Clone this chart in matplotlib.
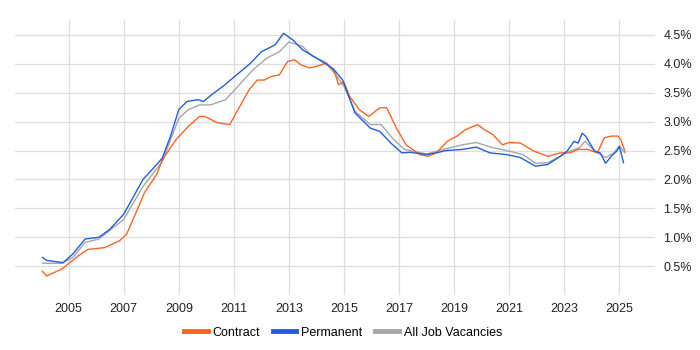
import matplotlib
matplotlib.use("Agg")
import matplotlib.pyplot as plt

plt.rcParams['font.family'] = ['Liberation Sans', 'DejaVu Sans']

# valores (año, porcentaje)
anios_contract = [2004.05, 2004.2, 2004.75, 2005.35, 2005.7, 2006.3, 2006.85, 2007.1, 2007.45, 2007.75,
                  2008.2, 2008.4, 2008.9, 2009.35, 2009.75, 2009.95, 2010.4, 2010.85, 2011.15, 2011.55,
                  2011.85, 2012.1, 2012.35, 2012.65, 2012.95, 2013.2, 2013.45, 2013.75, 2014.1, 2014.35,
                  2014.65, 2014.8, 2015.0, 2015.2, 2015.55, 2015.9, 2016.3, 2016.55, 2016.9, 2017.25,
                  2017.75, 2018.05, 2018.35, 2018.75, 2019.1, 2019.4, 2019.85, 2020.1, 2020.4, 2020.75,
                  2021.0, 2021.4, 2021.9, 2022.4, 2022.85, 2023.2, 2023.5, 2023.85, 2024.2, 2024.45,
                  2024.7, 2024.95, 2025.05, 2025.2]
contract = [0.41, 0.33, 0.45, 0.68, 0.79, 0.82, 0.94, 1.05, 1.43, 1.77,
            2.09, 2.34, 2.69, 2.92, 3.09, 3.09, 2.98, 2.95, 3.21, 3.55,
            3.72, 3.72, 3.78, 3.81, 4.04, 4.07, 3.98, 3.93, 3.97, 4.02,
            3.87, 3.64, 3.68, 3.44, 3.21, 3.09, 3.24, 3.24, 2.89, 2.60,
            2.43, 2.40, 2.46, 2.66, 2.75, 2.86, 2.95, 2.86, 2.78, 2.60,
            2.64, 2.63, 2.49, 2.40, 2.46, 2.46, 2.52, 2.52, 2.46, 2.72,
            2.75, 2.75, 2.69, 2.49]

anios_permanent = [2004.05, 2004.2, 2004.8, 2005.15, 2005.6, 2006.1, 2006.5, 2007.0, 2007.7, 2008.2,
                   2008.4, 2008.7, 2009.0, 2009.3, 2009.7, 2009.9, 2010.2, 2010.6, 2011.1, 2011.6,
                   2012.0, 2012.5, 2012.8, 2013.15, 2013.5, 2013.9, 2014.2, 2014.6, 2014.95, 2015.4,
                   2015.95, 2016.3, 2016.7, 2017.1, 2017.4, 2018.0, 2018.35, 2018.7, 2019.3, 2019.8,
                   2020.3, 2020.9, 2021.4, 2021.95, 2022.4, 2022.85, 2023.1, 2023.35, 2023.5, 2023.65,
                   2023.77, 2024.1, 2024.3, 2024.5, 2024.7, 2024.9, 2025.0, 2025.15]
permanent = [0.65, 0.60, 0.56, 0.71, 0.97, 1.00, 1.14, 1.40, 2.00, 2.26,
             2.37, 2.75, 3.21, 3.35, 3.38, 3.35, 3.47, 3.61, 3.81, 4.01,
             4.21, 4.33, 4.53, 4.41, 4.24, 4.13, 4.04, 3.92, 3.72, 3.15,
             2.89, 2.83, 2.63, 2.46, 2.47, 2.43, 2.46, 2.50, 2.52, 2.56,
             2.46, 2.43, 2.38, 2.23, 2.26, 2.40, 2.49, 2.66, 2.63, 2.80,
             2.75, 2.49, 2.46, 2.28, 2.40, 2.49, 2.57, 2.29]

anios_todos = [2004.05, 2004.75, 2005.15, 2005.6, 2006.1, 2007.0, 2007.7, 2008.4, 2009.0, 2009.35,
               2009.75, 2010.15, 2010.7, 2011.2, 2011.7, 2012.2, 2012.65, 2013.0, 2013.5, 2013.85,
               2014.3, 2014.7, 2015.0, 2015.4, 2015.95, 2016.35, 2016.8, 2017.2, 2018.0, 2018.6,
               2019.3, 2019.8, 2020.4, 2021.0, 2021.5, 2021.95, 2022.4, 2022.85, 2023.2, 2023.55,
               2023.75, 2024.1, 2024.5, 2024.8, 2025.0, 2025.2]
todos = [0.55, 0.55, 0.65, 0.91, 0.97, 1.31, 1.88, 2.31, 3.06, 3.21,
         3.29, 3.29, 3.38, 3.64, 3.90, 4.10, 4.21, 4.38, 4.30, 4.13,
         4.04, 3.81, 3.61, 3.18, 2.95, 2.95, 2.69, 2.52, 2.44, 2.52,
         2.60, 2.64, 2.55, 2.49, 2.43, 2.28, 2.29, 2.40, 2.49, 2.55,
         2.66, 2.49, 2.38, 2.46, 2.58, 2.46]

marcas_x = [2005, 2007, 2009, 2011, 2013, 2015, 2017, 2019, 2021, 2023, 2025]
marcas_y = [0.5, 1.0, 1.5, 2.0, 2.5, 3.0, 3.5, 4.0, 4.5]

fig = plt.figure(figsize=(7, 3.5), dpi=100)
ax = fig.add_axes([0.021, 0.157, 0.915, 0.786])

ax.plot(anios_todos, todos, color='#a6a6a6', linewidth=1.0, label='All Job Vacancies')
ax.plot(anios_contract, contract, color='#ff6320', linewidth=1.0, label='Contract')
ax.plot(anios_permanent, permanent, color='#1f5fdc', linewidth=1.0, label='Permanent')

ax.set_xlim(2003.04, 2026.3)
ax.set_ylim(0, 4.76)
ax.set_xticks(marcas_x)
ax.set_yticks(marcas_y)
ax.set_yticklabels([f'{v:.1f}%' for v in marcas_y])
ax.yaxis.tick_right()
ax.tick_params(length=0, labelsize=9, colors='#222222')
ax.tick_params(axis='y', pad=6)
ax.tick_params(axis='x', pad=6)
ax.grid(color='#dddddd', linewidth=0.9)
for s in ax.spines.values():
    s.set_visible(False)

handles, labels = ax.get_legend_handles_labels()
orden = [1, 2, 0]
leg = fig.legend([handles[i] for i in orden], [labels[i] for i in orden],
                 loc='lower center', bbox_to_anchor=(0.49, 0.0), ncol=3, frameon=False,
                 fontsize=9, handlelength=1.9, columnspacing=1.0, handletextpad=0.4)
for ln in leg.get_lines():
    ln.set_linewidth(3.5)

fig.savefig('out.png', dpi=100)
